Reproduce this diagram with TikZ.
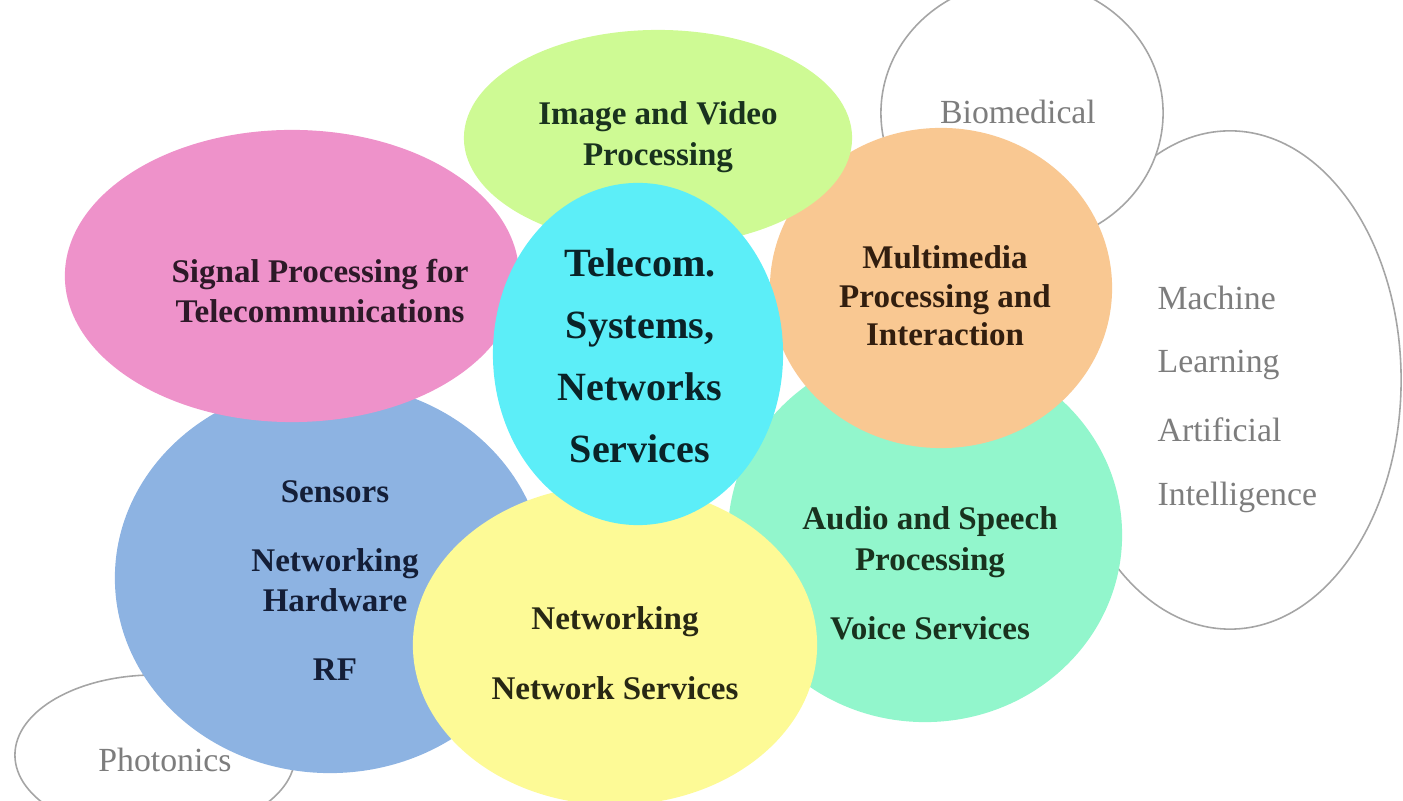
\documentclass[tikz,border=0pt]{standalone}
\usepackage{fontspec}
\setmainfont{Liberation Serif}
\usetikzlibrary{shapes.geometric}
\definecolor{cPink}{RGB}{238,146,202}
\definecolor{cBlue}{RGB}{141,179,226}
\definecolor{cYellow}{RGB}{253,250,150}
\definecolor{cMint}{RGB}{146,246,204}
\definecolor{cOrange}{RGB}{249,200,146}
\definecolor{cLime}{RGB}{206,250,148}
\definecolor{cCyan}{RGB}{92,238,248}
\definecolor{cLine}{RGB}{165,165,165}
\definecolor{cGrayText}{RGB}{125,125,125}
\definecolor{cDark}{RGB}{25,30,35}
\definecolor{tPinkC}{RGB}{45,25,40}
\definecolor{tBlueC}{RGB}{20,30,55}
\definecolor{tGreenC}{RGB}{25,50,30}
\definecolor{tBrownC}{RGB}{50,30,15}
\definecolor{tCyanC}{RGB}{10,35,40}
\definecolor{tYellowC}{RGB}{40,40,20}
\tikzset{
  blob/.style={ellipse, inner sep=0pt, draw=none},
  ring/.style={ellipse, inner sep=0pt, draw=cLine, fill=white, line width=0.45pt},
  lbl/.style={font=\bfseries\fontsize{9.4}{11.5}\selectfont, text=cDark, align=center, inner sep=0pt},
  biglbl/.style={font=\bfseries\fontsize{11.4}{17.6}\selectfont, text=tCyanC, align=center, inner sep=0pt},
  glbl/.style={font=\fontsize{9.6}{11.5}\selectfont, text=cGrayText, inner sep=0pt}
}
\begin{document}
\begin{tikzpicture}[x=0.01cm, y=-0.01cm]
\useasboundingbox (0,0) rectangle (1403,801);
% outline rings
\node[ring, minimum width=3.42cm, minimum height=4.98cm] (ml) at (1230,380) {};
\node[ring, minimum width=2.82cm, minimum height=2.64cm] (bio) at (1022,113) {};
\node[ring, minimum width=2.80cm, minimum height=1.60cm] (pho) at (155,755) {};
% coloured ellipses
\node[blob, fill=cBlue, minimum width=4.30cm, minimum height=3.90cm] (blue) at (330,578) {};
\node[blob, fill=cPink, minimum width=4.54cm, minimum height=2.92cm] (pink) at (292,276) {};
\node[blob, fill=cMint, minimum width=3.94cm, minimum height=3.74cm] (mint) at (925,535) {};
\node[blob, fill=cOrange, minimum width=3.42cm, minimum height=3.20cm] (orange) at (941,288) {};
\node[blob, fill=cLime, minimum width=3.88cm, minimum height=2.16cm] (lime) at (658,138) {};
\node[blob, fill=cYellow, minimum width=4.04cm, minimum height=3.20cm] (yellow) at (615,645) {};
\node[blob, fill=cCyan, minimum width=2.90cm, minimum height=3.42cm] (cyan) at (638,354) {};
% labels
\node[lbl, text=tGreenC] (tLime) at (658,137) {Image and Video\\Processing};
\node[lbl, text=tPinkC] (tPink) at (320,291) {Signal Processing for\\Telecommunications};
\node[biglbl] (tCyan) at (640,356) {Telecom.\\Systems,\\Networks\\Services};
\node[lbl, text=tBrownC, font=\bfseries\fontsize{9.4}{11}\selectfont] (tOrange) at (945,296) {Multimedia\\Processing and\\Interaction};
\node[lbl, text=tBlueC] (tSens) at (335,492) {Sensors};
\node[lbl, text=tBlueC] (tNetHw) at (335,580) {Networking\\Hardware};
\node[lbl, text=tBlueC] (tRF) at (335,670) {RF};
\node[lbl, text=tYellowC] (tNet) at (615,622) {Networking};
\node[lbl, text=tYellowC] (tNetSvc) at (615,688) {Network Services};
\node[lbl, text=tGreenC] (tAudio) at (930,542) {Audio and Speech\\Processing};
\node[lbl, text=tGreenC] (tVoice) at (930,628) {Voice Services};
\node[glbl] (tBio) at (1018,112) {Biomedical};
\node[glbl, anchor=west] (tMach) at (1157,298) {Machine};
\node[glbl, anchor=west] (tLearn) at (1157,365) {Learning};
\node[glbl, anchor=west] (tArt) at (1157,430) {Artificial};
\node[glbl, anchor=west] (tInt) at (1157,497) {Intelligence};
\node[glbl] (tPho) at (165,760) {Photonics};
\end{tikzpicture}
\end{document}
